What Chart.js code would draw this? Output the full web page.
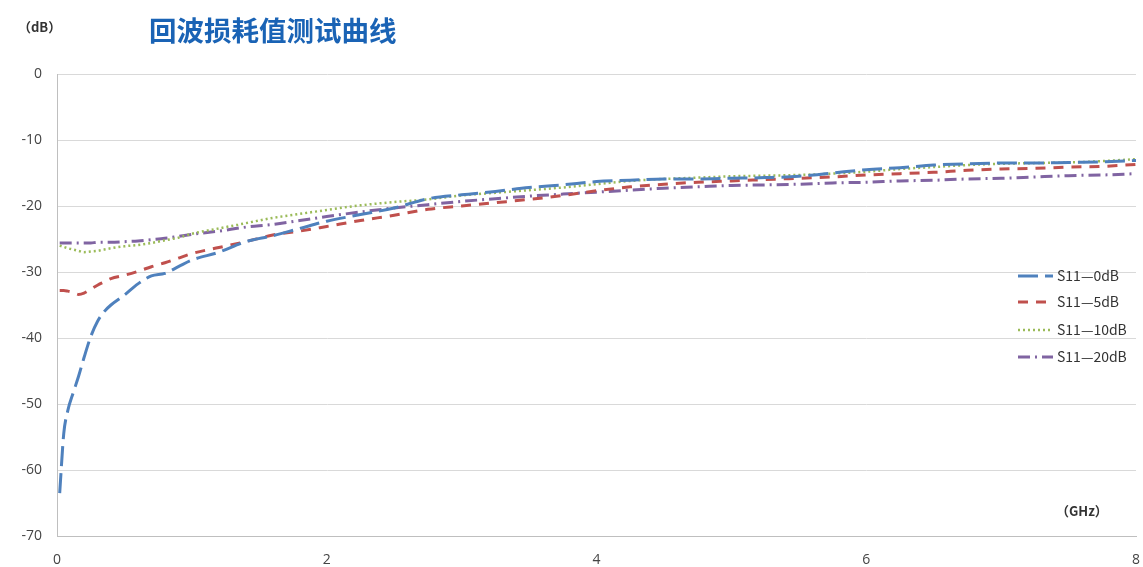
<!DOCTYPE html>
<html>
<head>
<meta charset="utf-8">
<script src="https://cdn.jsdelivr.net/npm/chart.js@4.4.1/dist/chart.umd.min.js"></script>
<style>
html,body{margin:0;padding:0;background:#fff;}
#wrap{width:1143px;height:567px;position:relative;}
</style>
</head>
<body>
<div id="wrap"><canvas id="c" width="1143" height="567"></canvas></div>
<script>
const titleText = "回波损耗值测试曲线";
const yUnit = "（dB）";
const xUnit = "（GHz）";
const seriesNames = ["S11—0dB", "S11—5dB", "S11—10dB", "S11—20dB"];

const freq = [0.02,0.05,0.08,0.12,0.16,0.2,0.25,0.3,0.35,0.4,0.5,0.6,0.7,0.8,0.9,1.0,1.2,1.4,1.6,1.8,2.0,2.25,2.5,2.75,3.0,3.25,3.5,3.75,4.0,4.25,4.5,4.75,5.0,5.25,5.5,5.75,6.0,6.25,6.5,6.75,7.0,7.25,7.5,7.75,8.0];

const s11_0dB = [-63.5,-54.5,-51,-48.3,-45.8,-43,-39.8,-37.5,-36,-35,-33.5,-31.8,-30.6,-30.2,-29.2,-28.2,-27,-25.4,-24.5,-23.4,-22.3,-21.3,-20.3,-18.9,-18.3,-17.8,-17.2,-16.8,-16.3,-16.1,-15.9,-15.9,-15.8,-15.7,-15.5,-15.0,-14.5,-14.2,-13.8,-13.6,-13.5,-13.5,-13.4,-13.3,-13.1];
const s11_5dB = [-32.8,-32.8,-32.9,-33.1,-33.4,-33.2,-32.6,-32,-31.5,-31,-30.5,-29.9,-29.2,-28.6,-27.9,-27.2,-26.3,-25.4,-24.4,-23.8,-23.1,-22.2,-21.4,-20.5,-20.0,-19.5,-19.0,-18.4,-17.7,-17.1,-16.7,-16.4,-16.2,-16.0,-15.8,-15.6,-15.3,-15.1,-14.9,-14.6,-14.4,-14.3,-14.1,-14.0,-13.7];
const s11_10dB = [-26.0,-26.2,-26.4,-26.6,-26.8,-27.0,-26.9,-26.8,-26.6,-26.4,-26.1,-25.9,-25.6,-25.2,-24.8,-24.2,-23.4,-22.6,-21.8,-21.2,-20.6,-19.9,-19.4,-19.0,-18.4,-18.0,-17.6,-17.2,-16.7,-16.2,-15.9,-15.7,-15.5,-15.4,-15.3,-15.1,-14.8,-14.4,-14.1,-13.8,-13.6,-13.5,-13.4,-13.2,-12.9];
const s11_20dB = [-25.6,-25.6,-25.6,-25.6,-25.6,-25.6,-25.6,-25.5,-25.5,-25.5,-25.4,-25.3,-25.1,-24.9,-24.6,-24.3,-23.8,-23.2,-22.8,-22.2,-21.6,-20.9,-20.3,-19.8,-19.3,-18.9,-18.5,-18.2,-17.9,-17.6,-17.3,-17.1,-16.9,-16.8,-16.7,-16.5,-16.4,-16.2,-16.1,-15.9,-15.8,-15.6,-15.4,-15.3,-15.1];

const xTicks = [0,2,4,6,8];
const yTicks = [0,-10,-20,-30,-40,-50,-60,-70];

const styles = [
  {color:'#4F81BD', dash:[20,7], width:3},
  {color:'#C0504D', dash:[10,8], width:3},
  {color:'#9BBB59', dash:[2,3], width:2.5},
  {color:'#8064A2', dash:[12,5,2,5], width:3}
];
const values = [s11_0dB, s11_5dB, s11_10dB, s11_20dB];

const datasets = values.map((arr, i) => ({
  label: seriesNames[i],
  data: arr.map((v, j) => ({x: freq[j], y: v})),
  borderColor: styles[i].color,
  borderDash: styles[i].dash,
  borderWidth: styles[i].width,
  pointRadius: 0,
  fill: false,
  cubicInterpolationMode: 'monotone'
}));

const overlay = {
  id: 'overlay',
  afterDraw(chart) {
    const ctx = chart.ctx;
    const ca = chart.chartArea;
    ctx.save();
    // title
    ctx.fillStyle = '#1a63b5';
    ctx.font = 'bold 27.5px "Noto Sans CJK SC", sans-serif';
    ctx.textBaseline = 'middle';
    ctx.textAlign = 'left';
    ctx.fillText(titleText, 149, 31);
    // units
    ctx.fillStyle = '#333';
    ctx.font = 'bold 13px "Noto Sans CJK SC", sans-serif';
    ctx.fillText(yUnit, 18, 27);
    ctx.fillText(xUnit, ca.right - 80, 511);
    // legend
    const lx = ca.right - 118;
    const rowY = [276, 302, 330, 357];
    ctx.font = '14px "Noto Sans CJK SC", sans-serif';
    chart.data.datasets.forEach((ds, i) => {
      const y = rowY[i];
      ctx.beginPath();
      ctx.strokeStyle = ds.borderColor;
      ctx.lineWidth = ds.borderWidth;
      ctx.setLineDash(ds.borderDash);
      ctx.moveTo(lx, y);
      ctx.lineTo(lx + 35, y);
      ctx.stroke();
      ctx.setLineDash([]);
      ctx.fillStyle = '#333';
      ctx.fillText(ds.label, lx + 39, y);
    });
    ctx.restore();
  }
};

new Chart(document.getElementById('c'), {
  type: 'line',
  data: { datasets },
  options: {
    responsive: false,
    animation: false,
    layout: { padding: { top: 74, right: 7, left: 0, bottom: 0 } },
    plugins: { legend: { display: false }, title: { display: false }, tooltip: { enabled: false } },
    scales: {
      x: {
        type: 'linear', min: 0, max: 8,
        afterBuildTicks: (s) => { s.ticks = xTicks.map(v => ({value: v})); },
        afterFit: (s) => { s.height = 31; s.paddingRight = 0; s.paddingLeft = 0; },
        grid: { display: false, drawTicks: false },
        border: { display: true, color: '#bfbfbf', width: 1 },
        ticks: { color: '#444', font: { size: 14, family: 'Open Sans' }, padding: 16, maxRotation: 0 }
      },
      y: {
        type: 'linear', min: -70, max: 0,
        afterBuildTicks: (s) => { s.ticks = yTicks.map(v => ({value: v})); },
        afterFit: (s) => { s.width = 57; s.paddingTop = 0; s.paddingBottom = 0; },
        grid: { color: '#d9d9d9', lineWidth: 1, drawTicks: false },
        border: { display: true, color: '#bfbfbf', width: 1 },
        ticks: { color: '#444', font: { size: 14, family: 'Open Sans' }, padding: 15 }
      }
    }
  },
  plugins: [overlay]
});
</script>
</body>
</html>
